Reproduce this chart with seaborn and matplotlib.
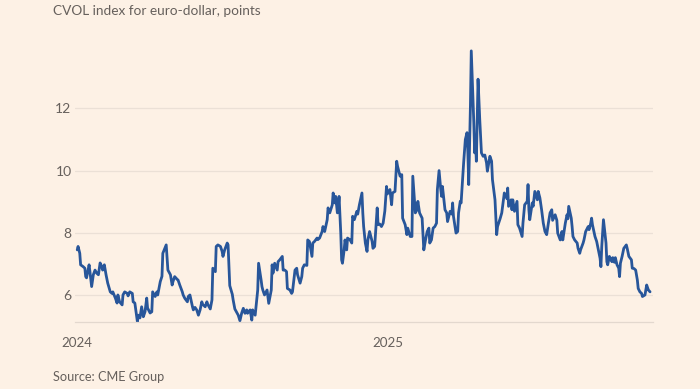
import numpy as np
import pandas as pd
import matplotlib
matplotlib.use("Agg")
import matplotlib.pyplot as plt
import seaborn as sns

# CVOL index for euro-dollar, days since 2024-01-01
days = [
    0, 1, 3, 4, 7, 9, 10, 11, 14, 15, 17, 19, 21, 23, 25, 27, 29, 30, 32, 34,
    36, 39, 41, 42, 45, 47, 48, 50, 53, 54, 56, 59, 60, 62, 65, 66, 68, 71, 72, 74,
    76, 78, 80, 82, 83, 86, 88, 89, 92, 94, 95, 98, 100, 101, 105, 107, 110, 112, 113, 115,
    118, 119, 121, 124, 125, 127, 130, 131, 133, 136, 137, 139, 141, 143, 145, 147, 148, 151, 153, 154,
    157, 159, 160, 163, 164, 166, 169, 171, 172, 174, 177, 178, 180, 183, 184, 186, 188, 190, 192, 194,
    196, 198, 200, 201, 204, 206, 207, 210, 211, 213, 214, 217, 218, 219, 221, 224, 225, 226, 229, 230,
    231, 233, 236, 237, 239, 242, 243, 245, 247, 248, 251, 253, 254, 257, 259, 260, 263, 265, 266, 268,
    271, 272, 274, 277, 278, 280, 283, 284, 286, 289, 290, 292, 295, 296, 298, 301, 302, 304, 305, 307,
    308, 309, 311, 312, 313, 315, 316, 318, 319, 322, 324, 325, 327, 330, 331, 333, 336, 337, 338, 340,
    342, 343, 345, 348, 349, 351, 354, 355, 357, 359, 361, 363, 365, 366, 369, 371, 372, 375, 377, 378,
    381, 383, 384, 387, 389, 390, 393, 395, 396, 399, 401, 402, 404, 407, 408, 409, 411, 413, 415, 416,
    418, 420, 422, 424, 425, 427, 429, 430, 431, 434, 436, 437, 440, 442, 443, 444, 447, 449, 450, 452,
    453, 456, 458, 460, 461, 462, 464, 465, 468, 469, 470, 471, 473, 475, 477, 479, 481, 483, 484, 487,
    489, 490, 493, 495, 496, 499, 501, 502, 504, 507, 508, 509, 512, 513, 514, 516, 519, 520, 522, 525,
    526, 528, 531, 532, 533, 534, 537, 538, 540, 543, 544, 546, 548, 550, 552, 554, 556, 558, 560, 561,
    564, 566, 567, 570, 572, 573, 576, 578, 579, 580, 583, 584, 585, 587, 590, 591, 593, 594, 597, 598,
    600, 603, 604, 606, 607, 608, 611, 613, 615, 617, 618, 619, 621, 624, 625, 626, 628, 631, 632, 634,
    635, 637, 639, 640, 641, 643, 645, 648, 649, 651, 654, 655, 657, 659, 661, 662, 664, 666, 667, 670,
    672, 674, 676,
]
cvol = [
    7.45, 7.56, 7.34, 6.97, 6.91, 6.86, 6.59, 6.55, 6.97, 6.75, 6.27, 6.65, 6.80, 6.70, 6.65, 7.03, 6.91, 6.80, 6.97, 6.65,
    6.38, 6.10, 6.05, 6.10, 5.90, 5.74, 6.00, 5.78, 5.68, 6.00, 6.10, 6.05, 5.97, 6.10, 6.05, 5.78, 5.74, 5.14, 5.35, 5.26,
    5.62, 5.30, 5.46, 5.90, 5.58, 5.42, 5.46, 6.10, 5.95, 6.10, 6.00, 6.43, 6.60, 7.34, 7.61, 6.80, 6.65, 6.32, 6.43, 6.59,
    6.50, 6.48, 6.32, 6.10, 6.00, 5.89, 5.78, 5.95, 6.00, 5.62, 5.52, 5.60, 5.52, 5.35, 5.52, 5.78, 5.70, 5.62, 5.78, 5.70,
    5.55, 5.84, 6.86, 6.75, 7.56, 7.61, 7.56, 7.40, 7.24, 7.45, 7.67, 7.61, 6.30, 6.02, 5.84, 5.55, 5.45, 5.35, 5.17, 5.41,
    5.57, 5.41, 5.52, 5.41, 5.52, 5.19, 5.52, 5.35, 5.62, 6.16, 7.02, 6.48, 6.27, 6.16, 6.00, 6.16, 5.95, 5.73, 6.16, 6.97,
    6.70, 7.02, 6.80, 7.07, 7.13, 7.24, 6.80, 6.80, 6.75, 6.21, 6.16, 6.05, 6.10, 6.80, 6.86, 6.65, 6.38, 6.59, 6.86, 6.97,
    6.95, 7.77, 7.72, 7.24, 7.67, 7.72, 7.83, 7.78, 7.83, 8.04, 8.20, 8.04, 8.42, 8.80, 8.64, 8.90, 9.28, 8.96, 9.17, 8.64,
    8.80, 9.17, 7.99, 7.13, 7.02, 7.45, 7.77, 7.45, 7.83, 7.77, 7.67, 8.53, 8.42, 8.69, 8.60, 8.90, 9.28, 8.64, 8.20, 7.67,
    7.40, 7.77, 8.04, 7.72, 7.50, 7.56, 8.80, 8.26, 8.28, 8.20, 8.31, 8.70, 9.49, 9.25, 9.39, 8.90, 9.28, 9.33, 10.30, 10.14,
    9.82, 9.87, 8.47, 8.26, 7.94, 8.15, 7.88, 7.88, 9.82, 8.64, 8.74, 9.01, 8.64, 8.47, 7.99, 7.45, 7.77, 8.04, 8.15, 7.67,
    7.77, 8.15, 8.20, 8.31, 9.39, 10.00, 9.39, 9.17, 9.49, 8.74, 8.64, 8.36, 8.69, 8.60, 8.96, 8.53, 7.99, 8.04, 8.64, 9.01,
    8.96, 10.25, 11.00, 11.22, 10.57, 9.55, 12.07, 13.85, 11.54, 10.57, 11.00, 10.30, 12.94, 11.65, 10.57, 10.46, 10.50, 10.25, 9.98, 10.46,
    10.30, 9.71, 9.06, 7.94, 8.20, 8.45, 8.64, 8.85, 9.28, 9.10, 9.44, 8.85, 9.06, 8.74, 9.06, 8.69, 9.01, 8.26, 8.15, 7.88,
    8.31, 8.90, 9.01, 9.55, 8.74, 8.42, 8.96, 8.85, 9.33, 9.06, 9.33, 9.12, 8.74, 8.31, 8.04, 7.94, 8.31, 8.64, 8.74, 8.40,
    8.58, 8.40, 7.99, 7.77, 8.04, 7.77, 8.31, 8.58, 8.45, 8.85, 8.47, 8.20, 7.88, 7.77, 7.67, 7.50, 7.34, 7.45, 7.67, 7.77,
    8.04, 8.20, 8.10, 8.31, 8.47, 8.26, 7.88, 7.72, 7.45, 7.18, 6.91, 7.56, 8.42, 7.67, 7.07, 6.97, 7.24, 7.07, 7.20, 7.05,
    7.20, 6.97, 6.86, 6.59, 7.02, 7.24, 7.50, 7.61, 7.50, 7.24, 7.13, 6.86, 6.85, 6.80, 6.48, 6.21, 6.10, 6.05, 5.95, 6.00,
    6.32, 6.16, 6.10,
]
y_ticks = [6, 8, 10, 12]
x_ticks = ["2024-01-01", "2025-01-01"]
x_tick_labels = ["2024", "2025"]

BG = "#fdf1e5"
LINE = "#28569a"
GRID = "#ebe0d6"
TEXT = "#66605c"

sns.set_theme(style="white")
plt.rcParams.update({
    "figure.facecolor": BG,
    "axes.facecolor": BG,
    "font.family": ["Lato", "DejaVu Sans"],
    "font.size": 10,
    "text.color": TEXT,
    "xtick.color": TEXT,
    "ytick.color": TEXT,
})

df = pd.DataFrame({
    "date": pd.Timestamp("2024-01-01") + pd.to_timedelta(days, unit="D"),
    "cvol": cvol,
})

fig = plt.figure(figsize=(7.0, 3.89), dpi=100)
ax = fig.add_axes([0.1071, 0.1722, 0.8258, 0.7250])

sns.lineplot(data=df, x="date", y="cvol", ax=ax, color=LINE, linewidth=2.0)

ax.set_ylim(5.13, 14.2)
ax.set_xlim(pd.Timestamp("2023-12-29 08:00"), pd.Timestamp("2025-11-10 12:00"))
ax.set_yticks(y_ticks)
ax.set_yticklabels([str(t) for t in y_ticks], fontsize=10)
ax.set_xticks(pd.to_datetime(x_ticks))
ax.set_xticklabels(x_tick_labels, fontsize=9.6)
ax.yaxis.grid(True, color=GRID, linewidth=0.9)
ax.set_axisbelow(True)
ax.tick_params(axis="y", length=0, pad=2.5)
ax.tick_params(axis="x", length=8, width=0.8, color="#ddd2c8", pad=3)
ax.set_xlabel("")
ax.set_ylabel("")

for side in ["top", "right", "left"]:
    ax.spines[side].set_visible(False)
ax.spines["bottom"].set_color("#e3d8ce")
ax.spines["bottom"].set_linewidth(0.9)

fig.text(53 / 700, 1 - 11 / 389, "CVOL index for euro-dollar, points",
         ha="left", va="center", fontsize=9.8, color=TEXT)
fig.text(53 / 700, 1 - 377 / 389, "Source: CME Group",
         ha="left", va="center", fontsize=9.2, color=TEXT)

fig.savefig("out.png", dpi=100, facecolor=BG)
